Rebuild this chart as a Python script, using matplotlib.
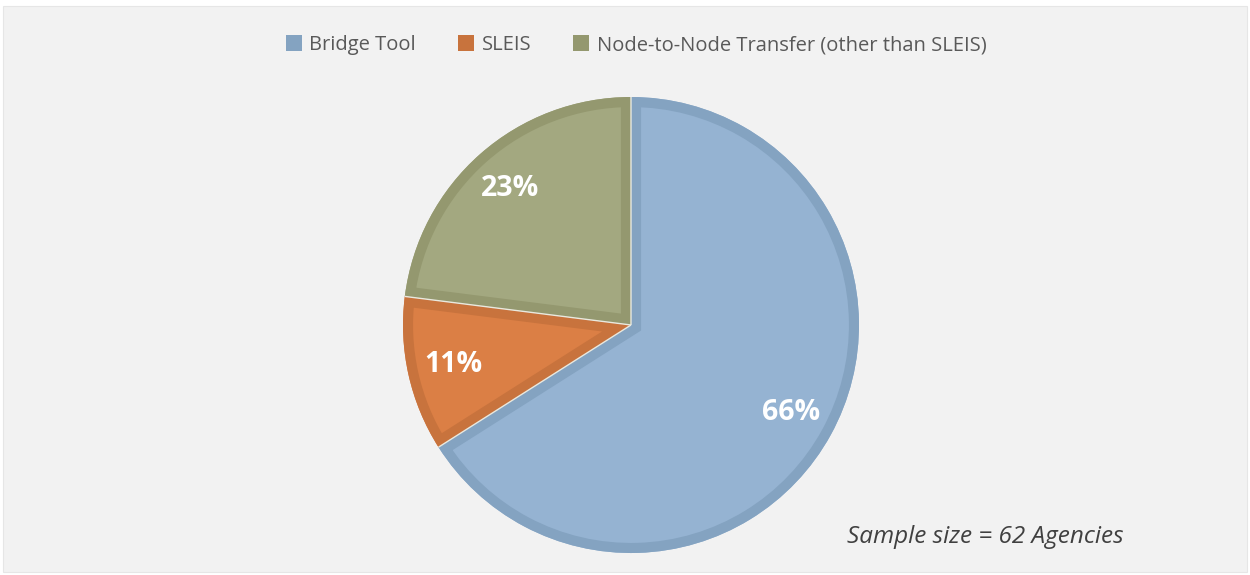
import matplotlib
matplotlib.use('Agg')
import matplotlib.pyplot as plt
from matplotlib.patches import Patch, Rectangle, Wedge
import numpy as np

labels = ['Bridge Tool', 'SLEIS', 'Node-to-Node Transfer (other than SLEIS)']
shares = [66, 11, 23]
fills = ['#95B3D2', '#DB7F45', '#A3A880']
edges = ['#84A3C1', '#C8733D', '#94986F']
note = 'Sample size = 62 Agencies'

W, H = 1250, 575
fig = plt.figure(figsize=(W / 100, H / 100), dpi=100)
fig.patch.set_facecolor('white')
ax = fig.add_axes([0, 0, 1, 1])
ax.set_xlim(0, W)
ax.set_ylim(0, H)
ax.axis('off')
ax.add_patch(Rectangle((3, 3), W - 6, H - 9, facecolor='#F2F2F2',
                       edgecolor='#E6E6E6', lw=0.8, zorder=0))

cx, cy, r = 631, H - 325, 228
wedges, texts, autotexts = ax.pie(
    shares, colors=fills, startangle=90, counterclock=False,
    center=(cx, cy), radius=r, autopct='%1.0f%%', pctdistance=0.8,
    textprops=dict(color='white', fontsize=20.5, fontweight='bold',
                   family='Open Sans'),
    wedgeprops=dict(linewidth=0))
ax.set_xlim(0, W)
ax.set_ylim(0, H)
ax.set_aspect('equal')

# inner border: thick stroke clipped to the wedge itself
for w, ec in zip(wedges, edges):
    border = Wedge(w.center, w.r, w.theta1, w.theta2, facecolor='none',
                   edgecolor=ec, linewidth=14.5, zorder=2)
    ax.add_patch(border)
    border.set_clip_path(w)

# thin light separators
for w in wedges:
    a = np.deg2rad(w.theta1)
    ax.plot([cx, cx + r * np.cos(a)], [cy, cy + r * np.sin(a)],
            color='#E9E9DF', lw=1.0, zorder=3, solid_capstyle='butt')

for t in autotexts:
    t.set_zorder(4)

handles = [Patch(facecolor=c, edgecolor='none') for c in edges]
fig.legend(handles, labels, loc='center', bbox_to_anchor=(0.509, 1 - 45 / H),
           ncol=3, frameon=False, handlelength=0.8, handleheight=0.8,
           handletextpad=0.35, columnspacing=2.1,
           prop=dict(family='Open Sans', size=14.5), labelcolor='#595959')

ax.text(985, H - 537, note, ha='center', va='center', fontsize=17.5,
        style='italic', color='#404040', family='Open Sans')

fig.savefig('out.png', dpi=100)
